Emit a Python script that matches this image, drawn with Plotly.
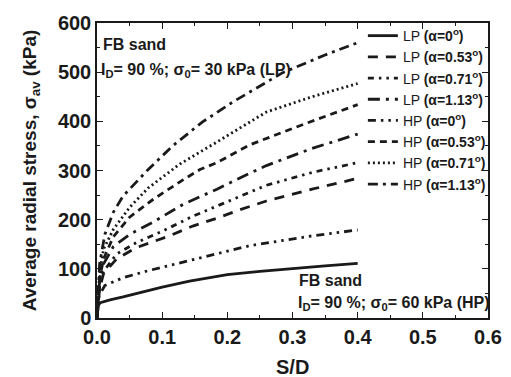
import plotly.graph_objects as go

# ---- data ----
lp0_x = [0, 0.002, 0.005, 0.02, 0.04, 0.07, 0.1, 0.142, 0.2, 0.25, 0.3, 0.35, 0.4]
lp0_y = [0, 26, 31, 37, 43, 53, 63, 75, 88, 95, 101, 106, 111]

lp053_x = [0, 0.004, 0.01, 0.03, 0.06, 0.107, 0.147, 0.184, 0.219, 0.26, 0.33, 0.4]
lp053_y = [0, 60, 90, 120, 143, 165, 187, 203, 220, 238, 262, 284]

lp071_x = [0, 0.004, 0.01, 0.03, 0.06, 0.101, 0.147, 0.191, 0.26, 0.33, 0.4]
lp071_y = [0, 65, 95, 130, 153, 177, 207, 232, 270, 296, 316]

lp113_x = [0, 0.004, 0.01, 0.025, 0.05, 0.086, 0.132, 0.184, 0.224, 0.26, 0.33, 0.4]
lp113_y = [0, 75, 110, 145, 170, 195, 231, 262, 288, 310, 345, 374]

hp0_x = [0, 0.003, 0.012, 0.04, 0.081, 0.13, 0.158, 0.234, 0.33, 0.4]
hp0_y = [0, 45, 66, 82, 97, 113, 123, 147, 167, 179]

hp053_x = [0, 0.004, 0.01, 0.025, 0.05, 0.086, 0.132, 0.158, 0.184, 0.234, 0.323, 0.4]
hp053_y = [0, 80, 120, 165, 205, 241, 281, 302, 316, 352, 397, 434]

hp071_x = [0, 0.004, 0.01, 0.025, 0.05, 0.079, 0.127, 0.162, 0.184, 0.26, 0.33, 0.4]
hp071_y = [0, 90, 140, 180, 225, 265, 313, 340, 358, 419, 450, 477]

hp113_x = [0, 0.004, 0.012, 0.025, 0.04, 0.077, 0.116, 0.162, 0.208, 0.285, 0.35, 0.4]
hp113_y = [0, 110, 170, 215, 248, 300, 350, 399, 439, 499, 535, 560]

series_names = ["LP <b>(α=0<sup>o</sup>)</b>", "LP <b>(α=0.53<sup>o</sup>)</b>",
                "LP <b>(α=0.71<sup>o</sup>)</b>", "LP <b>(α=1.13<sup>o</sup>)</b>",
                "HP <b>(α=0<sup>o</sup>)</b>", "HP <b>(α=0.53<sup>o</sup>)</b>",
                "HP <b>(α=0.71<sup>o</sup>)</b>", "HP <b>(α=1.13<sup>o</sup>)</b>"]

x_ticks = [0.0, 0.1, 0.2, 0.3, 0.4, 0.5, 0.6]
y_ticks = [0, 100, 200, 300, 400, 500, 600]

series = [
    (lp0_x, lp0_y, "solid"),
    (lp053_x, lp053_y, "10px,8px"),
    (lp071_x, lp071_y, "6px,5px,2.5px,5px,2.5px,5px"),
    (lp113_x, lp113_y, "12px,6px,3px,6px"),
    (hp0_x, hp0_y, "8px,5px,2.5px,5px,2.5px,5px"),
    (hp053_x, hp053_y, "7px,5px"),
    (hp071_x, hp071_y, "2px,3px"),
    (hp113_x, hp113_y, "10px,5px,3px,5px"),
]

fig = go.Figure()
for (xs, ys, dash), name in zip(series, series_names):
    fig.add_trace(go.Scatter(x=xs, y=ys, mode="lines", name=name,
                             line=dict(color="#1a1a1a", width=2.8, dash=dash)))

FONT = "Liberation Sans, Arial, sans-serif"
INK = "#1a1a1a"

axis_common = dict(
    showline=True, linecolor=INK, linewidth=1.5, mirror="ticks",
    ticks="inside", ticklen=6, tickwidth=1.2, tickcolor=INK,
    showgrid=False, zeroline=False, automargin=False,
    tickfont=dict(family=FONT, size=20, color=INK, weight="bold"),
)

fig.update_xaxes(
    range=[0, 0.6], tickvals=x_ticks, ticktext=[f"{v:.1f}" for v in x_ticks],
    minor=dict(dtick=0.05, ticks="inside", ticklen=3, tickcolor=INK, showgrid=False),
    **axis_common,
)
fig.update_yaxes(
    range=[0, 600], tickvals=y_ticks,
    minor=dict(dtick=50, ticks="inside", ticklen=3, tickcolor=INK, showgrid=False),
    title=dict(text="<b>Average radial stress, σ<sub>av</sub> (kPa)</b>",
               font=dict(family=FONT, size=19, color=INK), standoff=16),
    **axis_common,
)

# x-axis title as an annotation
fig.add_annotation(x=0.5, y=0, xref="paper", yref="paper", xanchor="center", yanchor="top",
                   yshift=-36, text="<b>S/D</b>", showarrow=False,
                   font=dict(family=FONT, size=20, color=INK))

ann_font = dict(family=FONT, size=16, color=INK)
fig.add_annotation(x=0.01, y=0.926, xref="paper", yref="paper", xanchor="left", yanchor="middle",
                   text="<b>FB sand</b>", showarrow=False, font=ann_font)
fig.add_annotation(x=0.005, y=0.839, xref="paper", yref="paper", xanchor="left", yanchor="middle",
                   text="<b>I<sub>D</sub>= 90 %; σ<sub>0</sub>= 30 kPa (LP)</b>", showarrow=False, font=ann_font)
fig.add_annotation(x=0.512, y=0.128, xref="paper", yref="paper", xanchor="left", yanchor="middle",
                   text="<b>FB sand</b>", showarrow=False, font=ann_font)
fig.add_annotation(x=0.508, y=0.05, xref="paper", yref="paper", xanchor="left", yanchor="middle",
                   text="<b>I<sub>D</sub>= 90 %; σ<sub>0</sub>= 60 kPa (HP)</b>", showarrow=False, font=ann_font)

# the page body adds an 8px offset, so the figure is 8px smaller on each side
fig.update_layout(
    width=503, height=369,
    margin=dict(l=89, r=23, t=12, b=59),
    paper_bgcolor="white", plot_bgcolor="white",
    showlegend=True,
    legend=dict(x=0.68, y=1.01, xanchor="left", yanchor="top", bgcolor="rgba(0,0,0,0)",
                font=dict(family=FONT, size=14, color=INK),
                tracegroupgap=0, itemwidth=30),
)

fig.write_html("out.html")
